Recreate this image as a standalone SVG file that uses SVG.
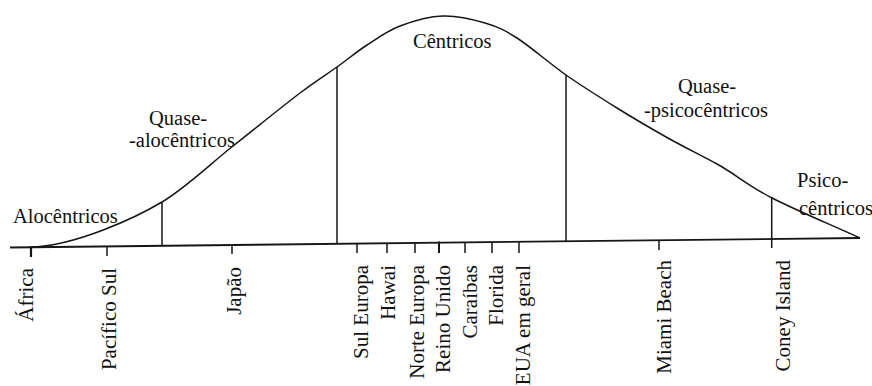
<svg xmlns="http://www.w3.org/2000/svg" width="872" height="386" viewBox="0 0 872 386">
<style>
.ln{stroke:#161616;stroke-width:1.5;fill:none;stroke-linecap:butt}
.ax{stroke:#161616;stroke-width:1.8;fill:none}
.tk{stroke:#161616;stroke-width:1.5}
.h{font-family:"Liberation Serif","Times New Roman",serif;font-size:20.5px;fill:#111111}
.v{font-family:"Liberation Serif","Times New Roman",serif;font-size:21px;fill:#111111;text-anchor:end}
</style>
<rect width="872" height="386" fill="#ffffff"/>
<g id="connectors">
  <path id="curve" class="ln" d="M30,247 C75,246.5 138,216.4 162,202 C186,187.6 210,164.17 233,146 C256,127.83 282.67,106.17 300,93 C317.33,79.83 325.83,75 337,67 C348.17,59 356.5,51.83 367,45 C377.5,38.17 387.33,30.83 400,26 C412.67,21.17 428.83,16.5 443,16 C457.17,15.5 472.67,19.33 485,23 C497.33,26.67 503.5,29.33 517,38 C530.5,46.67 549.33,63.33 566,75 C582.67,86.67 600.17,97.5 617,108 C633.83,118.5 650.5,128.2 667,137.5 C683.5,146.8 699.5,154.5 717,164 C734.5,173.5 748.17,185.83 772,198 C795.83,210.17 830.67,224.67 860,238"/>
  <line id="axis" class="ax" x1="10" y1="247.5" x2="860" y2="238"/>
  <line class="ln" x1="162" y1="202" x2="162" y2="246.2"/>
  <line class="ln" x1="337" y1="67" x2="337" y2="244.3"/>
  <line class="ln" x1="566" y1="75" x2="566" y2="241.7"/>
  <line class="ln" x1="771.7" y1="197" x2="771.7" y2="248"/>
  <g id="ticks" class="tk">
    <line x1="31" y1="247" x2="31" y2="257" stroke-width="2.2"/>
    <line x1="107" y1="246.5" x2="107" y2="256"/>
    <line x1="232" y1="245" x2="232" y2="254"/>
    <line x1="357" y1="244" x2="357" y2="253"/>
    <line x1="387" y1="243.5" x2="387" y2="253"/>
    <line x1="415" y1="243.3" x2="415" y2="253"/>
    <line x1="439" y1="241.5" x2="439" y2="253" stroke-width="2"/>
    <line x1="465" y1="242.7" x2="465" y2="253"/>
    <line x1="492" y1="242.4" x2="492" y2="253"/>
    <line x1="519" y1="242.1" x2="519" y2="253"/>
    <line x1="659" y1="240.5" x2="659" y2="250"/>
  </g>
</g>
<g id="segments">
  <g id="alocentricos"><text class="h" x="13" y="222.5">Alocêntricos</text></g>
  <g id="quase-alocentricos"><text class="h" x="149" y="125">Quase-</text><text class="h" x="129" y="147">-alocêntricos</text></g>
  <g id="centricos"><text class="h" x="413" y="48">Cêntricos</text></g>
  <g id="quase-psicocentricos"><text class="h" x="678" y="92.5">Quase-</text><text class="h" x="644" y="116.5">-psicocêntricos</text></g>
  <g id="psicocentricos"><text class="h" x="797" y="186.5">Psico-</text><text class="h" x="799" y="214.5">cêntricos</text></g>
</g>
<g id="destinations">
  <g id="africa"><text class="v" transform="translate(33,268) rotate(-90)">África</text></g>
  <g id="pacifico-sul"><text class="v" transform="translate(116,268) rotate(-90)">Pacífico Sul</text></g>
  <g id="japao"><text class="v" transform="translate(241,267) rotate(-90)">Japão</text></g>
  <g id="sul-europa"><text class="v" transform="translate(368,265) rotate(-90)">Sul Europa</text></g>
  <g id="hawai"><text class="v" transform="translate(395,265) rotate(-90)">Hawai</text></g>
  <g id="norte-europa"><text class="v" transform="translate(424,265) rotate(-90)">Norte Europa</text></g>
  <g id="reino-unido"><text class="v" transform="translate(450,265) rotate(-90)">Reino Unido</text></g>
  <g id="caraibas"><text class="v" transform="translate(477,265) rotate(-90)">Caraíbas</text></g>
  <g id="florida"><text class="v" transform="translate(503,265) rotate(-90)">Florida</text></g>
  <g id="eua"><text class="v" transform="translate(530,265) rotate(-90)">EUA em geral</text></g>
  <g id="miami-beach"><text class="v" transform="translate(671,260) rotate(-90)">Miami Beach</text></g>
  <g id="coney-island"><text class="v" transform="translate(790,260) rotate(-90)">Coney Island</text></g>
</g>
</svg>
